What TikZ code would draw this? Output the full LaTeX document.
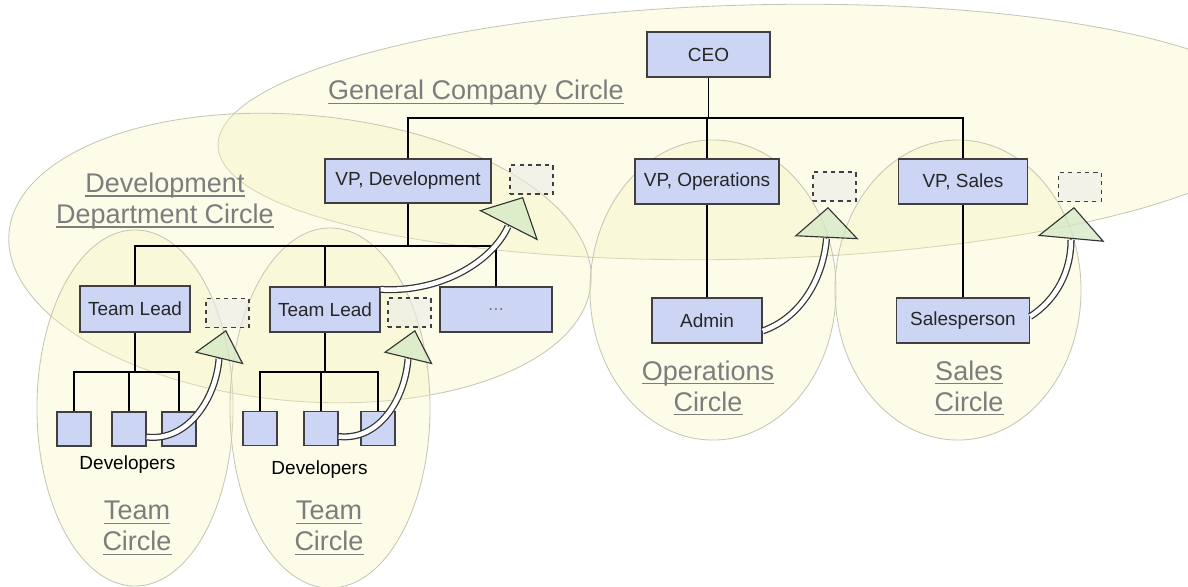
\documentclass[tikz,border=0pt]{standalone}
\usepackage{fontspec}
\setmainfont{Liberation Sans}
\usetikzlibrary{arrows.meta}

\definecolor{boxblue}{RGB}{204,214,244}
\definecolor{ringfill}{RGB}{245,245,190}
\definecolor{ringline}{RGB}{198,198,180}
\definecolor{labelgray}{RGB}{125,125,125}
\definecolor{headgreen}{RGB}{212,232,196}
\definecolor{slotgray}{RGB}{236,236,232}

\newcommand{\ulined}[1]{\setbox0\hbox{#1}\rlap{\rule[-2.9pt]{\wd0}{0.9pt}}\box0}

\begin{document}
\begin{tikzpicture}[x=0.025cm, y=-0.025cm,
	unit/.style={draw=black!75, fill=boxblue, line width=0.9pt, minimum height=1.125cm, font=\fontsize{13.5}{16}\selectfont, text=black!85},
	devbox/.style={unit, minimum width=0.85cm, minimum height=0.85cm},
	slot/.style={draw=black!75, fill=slotgray, fill opacity=0.6, dashed, line width=0.9pt, minimum width=1.075cm, minimum height=0.725cm},
	ring/.style={draw=ringline, fill=ringfill, fill opacity=0.35, line width=0.6pt},
	tag/.style={text=labelgray, align=center, font=\fontsize{19.2}{22}\selectfont},
	link/.style={draw=black, line width=0.9pt},
	shaft/.style={draw=black!80, double=white, double distance=3.2pt, line width=0.9pt},
	head/.style 2 args={draw=black!80, line width=0.8pt, fill opacity=0.75, -{Triangle[length=#1, width=#2, fill=headgreen]}}]
		\useasboundingbox (0,0) rectangle (1188,586);

		% Kregi
		\draw[ring, rotate around={1.5:(750,132)}] (750,132) ellipse [x radius=13.3cm, y radius=3.175cm];
		\draw[ring, rotate around={-5:(300,258)}] (300,258) ellipse [x radius=7.3cm, y radius=3.575cm];
		\draw[ring] (135,408) ellipse [x radius=2.45cm, y radius=4.45cm];
		\draw[ring] (330,408) ellipse [x radius=2.5cm, y radius=4.5cm];
		\draw[ring] (713,290) ellipse [x radius=3.075cm, y radius=3.75cm];
		\draw[ring] (958,290) ellipse [x radius=3.075cm, y radius=3.75cm];

		\node[tag] (GC) at (476,93) {\ulined{General Company Circle}};
		\node[tag] (DC) at (165,201) {\ulined{Development}\\\ulined{Department Circle}};
		\node[tag] (TC1) at (137,528) {\ulined{Team}\\\ulined{Circle}};
		\node[tag] (TC2) at (329,528) {\ulined{Team}\\\ulined{Circle}};
		\node[tag] (OC) at (708,388) {\ulined{Operations}\\\ulined{Circle}};
		\node[tag] (SC) at (969,388) {\ulined{Sales}\\\ulined{Circle}};

		% Bloki
		\node[unit, minimum width=3.075cm] (CEO) at (708.5,54.5) {CEO};
		\node[unit, minimum width=4.15cm, minimum height=1.1cm] (VD) at (408,181) {VP, Development};
		\node[unit, minimum width=3.6cm] (VO) at (707,181.5) {VP, Operations};
		\node[unit, minimum width=3.225cm] (VS) at (963,181.5) {VP, Sales};
		\node[unit, minimum width=2.75cm, minimum height=1.15cm] (L1) at (135,309) {Team Lead};
		\node[unit, minimum width=2.75cm] (L2) at (325,309.5) {Team Lead};
		\node[unit, minimum width=2.8cm, text=black!50] (M) at (496,309.5) {...};
		\node[unit, minimum width=2.75cm] (AD) at (707,320.5) {Admin};
		\node[unit, minimum width=3.325cm] (SP) at (963,320.5) {Salesperson};

		\node[devbox] (D11) at (74,429) {};
		\node[devbox] (D12) at (129,429) {};
		\node[devbox] (D13) at (179,429) {};
		\node[devbox] (D21) at (260,428.5) {};
		\node[devbox] (D22) at (321,428.5) {};
		\node[devbox] (D23) at (378,428.5) {};
		\node[font=\fontsize{13.5}{16}\selectfont] (DV1) at (127.5,465) {Developers};
		\node[font=\fontsize{13.5}{16}\selectfont] (DV2) at (319.5,470) {Developers};

		\node[slot] (S0) at (531.5,179.5) {};
		\node[slot] (S1) at (834.5,186.5) {};
		\node[slot] (S2) at (1080,187) {};
		\node[slot] (S3) at (227.5,313) {};
		\node[slot] (S4) at (409.5,312.5) {};

		% Linie
		\coordinate (T) at (708,118);
		\draw[link] (CEO) -- (CEO |- T);
		\draw[link] (VD.north) |- (T) -| (VS.north);
		\draw[link] (VO) -- (VO |- T);
		\draw[link] (VO) -- (AD);
		\draw[link] (VS) -- (SP);

		\coordinate (U) at (408,246);
		\draw[link] (VD) -- (VD |- U);
		\draw[link] (L1.north) |- (U) -| (M.north);
		\draw[link] (L2) -- (L2 |- U);

		\coordinate (P) at (135,372);
		\draw[link] (L1) -- (L1 |- P);
		\draw[link] (D11.north) |- (P) -| (D13.north);
		\draw[link] (D12) -- (D12 |- P);

		\coordinate (Q) at (325,372);
		\draw[link] (L2) -- (L2 |- Q);
		\draw[link] (D21.north) |- (Q) -| (D23.north);
		\draw[link] (D22) -- (D22 |- Q);

		% Strzalki
		\coordinate (t1) at (226,330); \coordinate (b1) at (219,359);
		\draw[shaft] ([yshift=-0.2cm]D12.east) .. controls (188,442) and (216,398) .. (b1);
		\draw[head={0.73cm}{1.25cm}] (b1) -- (t1);

		\coordinate (t2) at (415,330); \coordinate (b2) at (408,359);
		\draw[shaft] ([yshift=-0.2cm]D22.east) .. controls (380,441) and (405,398) .. (b2);
		\draw[head={0.73cm}{1.25cm}] (b2) -- (t2);

		\coordinate (t3) at (523,197); \coordinate (b3) at (508,226.5);
		\draw[shaft] ([yshift=-0.075cm]L2.north east) .. controls (440,293) and (492,262) .. (b3);
		\draw[head={0.8cm}{1.65cm}] (b3) -- (t3);

		\coordinate (t4) at (828,207); \coordinate (b4) at (826.5,238.5);
		\draw[shaft] ([yshift=-0.26cm]AD.east) .. controls (800,318) and (823,280) .. (b4);
		\draw[head={0.77cm}{1.6cm}] (b4) -- (t4);

		\coordinate (t5) at (1074,207); \coordinate (b5) at (1071,240);
		\draw[shaft] ([yshift=0.1cm]SP.east) .. controls (1056,300) and (1071,272) .. (b5);
		\draw[head={0.8cm}{1.67cm}] (b5) -- (t5);

	\end{tikzpicture}
\end{document}
